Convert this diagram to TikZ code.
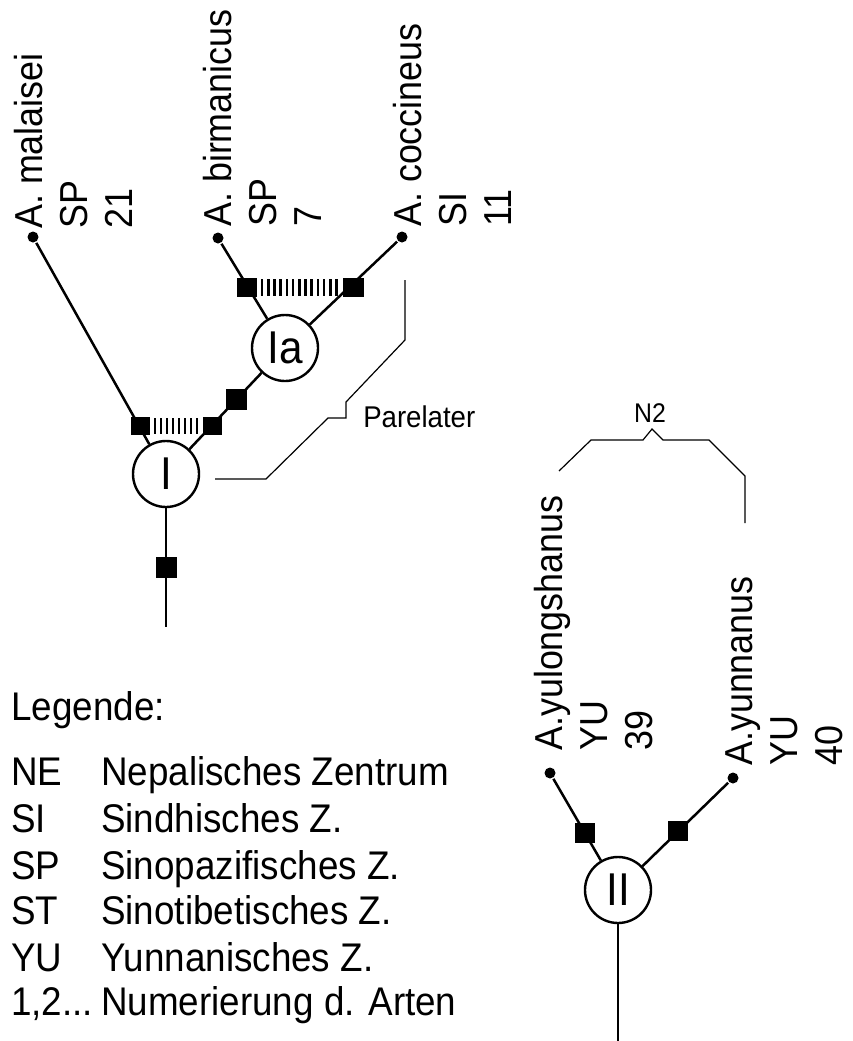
\documentclass[tikz,border=0pt]{standalone}
\usepackage{fontspec}
\setmainfont{Liberation Sans}[FakeStretch=0.92]

\tikzset{
  tip/.style={circle,fill=black,inner sep=0pt,minimum size=11pt},
  knot/.style={circle,draw,line width=2.4pt,fill=white,inner sep=0pt,minimum size=66pt,font=\fontsize{46}{50}\selectfont},
  apo/.style={rectangle,fill=black,inner sep=0pt,minimum size=21pt},
  species/.style={rotate=90,anchor=north west,align=left,inner sep=0pt,font=\fontsize{39}{45}\selectfont},
  legend/.style={anchor=base west,inner sep=0pt,font=\fontsize{40}{46}\selectfont},
  hatchline/.style={line width=2.6pt},
  brace/.style={line width=1.2pt},
}

\begin{document}
\begin{tikzpicture}[x=1pt,y=-1pt,line width=2.5pt]

%grid help
% \draw[gray, very thin] (0,0) grid[step=50] (853,1041);
\useasboundingbox (0,0) rectangle (853,1041);

%%%%%%%%%%%% Upper tree %%%%%%%%%%%%%%%%%%%

%Species ends
\node[tip] (mal) at (33,237) {};
\node[tip] (bir) at (218,238) {};
\node[tip] (coc) at (402,237) {};
\node[species] (maltxt) at (13,230) {A. malaisei\\SP\\21};
\node[species] (birtxt) at (202,228) {A. birmanicus\\SP\\7};
\node[species] (coctxt) at (392,228) {A. coccineus\\SI\\11};

%Branch points
\node[knot] (Ia) at (285,348) {Ia};
\node[knot] (I) at (166,474) {I};
\coordinate (Iroot) at (166,627);

%Branches
\draw (mal) -- (I);
\draw (bir) -- (Ia);
\draw (coc) -- (Ia);
\draw (Ia) -- node[apo,pos=0.35] (q1) {} (I);
\draw (I) -- node[apo,pos=0.5] (q0) {} (Iroot);

%Hatched bar on top
\fill (237,278) rectangle (257,297);
\foreach \x in {262,268.2,...,340}
  \draw[hatchline] (\x,279) -- (\x,296);
\fill (343,278) rectangle (364,297);
%Hatched bar below
\fill (131,417) rectangle (150,435);
\foreach \x in {155,161,...,199}
  \draw[hatchline] (\x,418) -- (\x,434);
\fill (203,417) rectangle (222,435);

%Parelater
\draw[brace] (215,479) -- (266,479) -- (328,418) -- (346,418) -- (346,402) -- (405,340) -- (405,280);
\node[anchor=base west,inner sep=0pt,font=\fontsize{30}{34}\selectfont] (par) at (362,427) {Parelater};

%%%%%%%%%%%% Lower tree %%%%%%%%%%%%%%%%%%%

%N2
\draw[brace] (559,471) -- (591,440) -- (643,440) -- (652,429) -- (663,440) -- (709,440) -- (745,476) -- (745,523);
\node[font=\fontsize{27}{30}\selectfont,inner sep=0pt] (n2) at (650,413) {N2};

%Species ends
\node[tip] (yul) at (550,773) {};
\node[tip] (yun) at (733,778) {};
\node[species] (yultxt) at (533,752) {A.yulongshanus\\YU\\39};
\node[species] (yuntxt) at (724,767) {A.yunnanus\\YU\\40};

%Branch point
\node[knot] (II) at (618,890) {II};
\coordinate (IIroot) at (618,1041);

%Branches
\draw (yul) -- node[apo,minimum size=20pt,pos=0.66] (q2) {} (II);
\draw (yun) -- node[apo,minimum size=20pt,pos=0.58] (q3) {} (II);
\draw (II) -- (IIroot);

%%%%%%%%%%%% Legend %%%%%%%%%%%%%%%%%%%
\node[legend] (leg) at (10,720) {Legende:};
\node[legend] (NE) at (10,785) {NE};
\node[legend] (NEtxt) at (100,785) {Nepalisches Zentrum};
\node[legend] (SI) at (10,832) {SI};
\node[legend] (SItxt) at (100,832) {Sindhisches Z.};
\node[legend] (SP) at (10,879) {SP};
\node[legend] (SPtxt) at (100,879) {Sinopazifisches Z.};
\node[legend] (ST) at (10,924) {ST};
\node[legend] (STtxt) at (100,924) {Sinotibetisches Z.};
\node[legend] (YU) at (10,971) {YU};
\node[legend] (YUtxt) at (100,971) {Yunnanisches Z.};
\node[legend] (num) at (10,1015) {1,2...};
\node[legend] (numtxt) at (100,1015) {Numerierung d. Arten};

\end{tikzpicture}
\end{document}
